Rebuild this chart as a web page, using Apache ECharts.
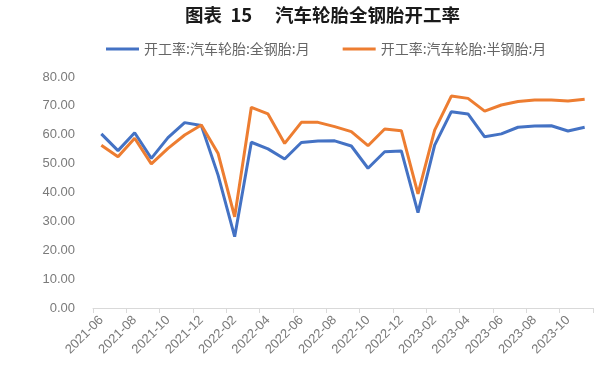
<!DOCTYPE html>
<html>
<head>
<meta charset="utf-8">
<script src="https://cdn.jsdelivr.net/npm/echarts@6/dist/echarts.min.js"></script>
<style>
    html, body { margin: 0; padding: 0; background: #fff; }
    #chart { width: 613px; height: 380px; }
</style>
</head>
<body>
<div id="chart"></div>
<script>
    //月份
    var months = [];
    for (var y = 2021; y <= 2023; y++) {
        for (var m = 1; m <= 12; m++) {
            if ((y == 2021 && m < 6) || (y == 2023 && m > 11))
                continue;
            months.push(y + "-" + (m < 10 ? "0" + m : m));
        }
    }
    //全钢胎开工率
    var allSteel = [60.3, 54.5, 60.7, 51.8, 59.0, 64.2, 63.2, 46.1, 24.7, 57.4,
        55.1, 51.6, 57.3, 57.8, 57.9, 56.1, 48.4, 54.1, 54.4, 33.0,
        56.4, 68.0, 67.2, 59.3, 60.3, 62.6, 63.0, 63.1, 61.3, 62.6];
    //半钢胎开工率
    var semiSteel = [56.4, 52.4, 58.8, 49.9, 55.3, 59.9, 63.4, 53.6, 31.6, 69.5,
        67.2, 57.0, 64.3, 64.3, 62.8, 61.1, 56.2, 62.0, 61.4, 39.5,
        61.6, 73.4, 72.6, 68.2, 70.3, 71.5, 72.0, 72.0, 71.7, 72.3];
    var seriesNames = ["开工率:汽车轮胎:全钢胎:月", "开工率:汽车轮胎:半钢胎:月"];

    var chart = echarts.init(document.getElementById("chart"));
    var option = {
        animation: false,
        color: ["#4472C4", "#ED7D31"],
        textStyle: { fontFamily: "'Noto Sans CJK SC', 'Liberation Sans', sans-serif" },
        title: {
            text: "图表  15　 汽车轮胎全钢胎开工率",
            left: 180,
            top: 1,
            textStyle: { fontSize: 18.5, fontWeight: "bold", color: "#1a1a1a" }
        },
        legend: {
            top: 37,
            left: 101,
            itemGap: 33,
            itemWidth: 33,
            itemHeight: 3,
            icon: "rect",
            textStyle: { fontSize: 14, color: "#666" },
            data: seriesNames
        },
        grid: { left: 93, right: 20, top: 77, bottom: 72 },
        xAxis: {
            type: "category",
            data: months,
            boundaryGap: true,
            axisLine: { lineStyle: { color: "#d9d9d9" } },
            axisTick: { show: true, interval: 1, length: 5, lineStyle: { color: "#d9d9d9" } },
            axisLabel: {
                interval: 1, rotate: 45, color: "#7a7a7a", fontSize: 13, margin: 10,
                fontFamily: "'Liberation Sans', sans-serif"
            }
        },
        yAxis: {
            type: "value",
            min: 0,
            max: 80,
            interval: 10,
            axisLine: { show: false },
            axisTick: { show: false },
            splitLine: { show: false },
            axisLabel: {
                color: "#7a7a7a",
                fontSize: 13,
                margin: 18,
                fontFamily: "'Liberation Sans', sans-serif",
                formatter: function (v) { return v.toFixed(2); }
            }
        },
        series: [{
            name: seriesNames[0],
            type: "line",
            data: allSteel,
            symbol: "none",
            lineStyle: { width: 3 }
        }, {
            name: seriesNames[1],
            type: "line",
            data: semiSteel,
            symbol: "none",
            lineStyle: { width: 3 }
        }]
    };
    chart.setOption(option);
</script>
</body>
</html>
